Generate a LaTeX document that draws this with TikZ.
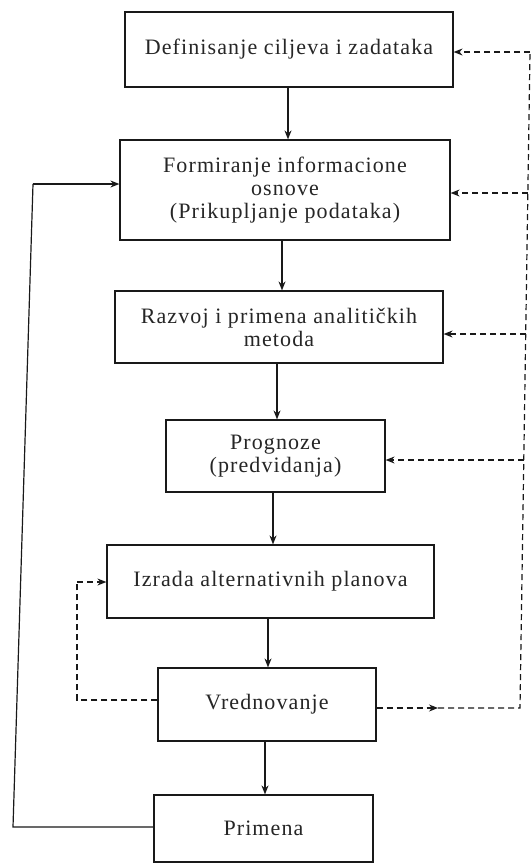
\documentclass[tikz,border=0pt]{standalone}
\usepackage{fontspec}
\setmainfont[LetterSpace=5]{Liberation Serif}
\usetikzlibrary{arrows.meta}
\begin{document}
\begin{tikzpicture}[x=1pt,y=-1pt,
  box/.style={draw=black!90,line width=1.2pt,rectangle,align=center,inner sep=0pt,
    font=\fontsize{22}{23}\selectfont,text=black!85},
  arr/.style={draw=black!90,line width=1.2pt,-{Stealth[length=9pt,width=7pt]}},
  ln/.style={draw=black!90,line width=1.2pt},
  dsh/.style={draw=black!90,line width=1.2pt,dash pattern=on 6pt off 4pt},
  darr/.style={dsh,-{Stealth[length=9pt,width=7pt]}}]
\useasboundingbox (0,0) rectangle (532,863);
\fill[white] (0,0) rectangle (532,863);

\node[box,minimum width=328pt,minimum height=75pt] (a) at (289,49.5) {Definisanje ciljeva i zadataka};
\node[box,minimum width=330pt,minimum height=100pt] (b) at (285,190) {Formiranje informacione\\osnove\\(Prikupljanje podataka)};
\node[box,minimum width=328pt,minimum height=72pt] (c) at (279,327) {Razvoj i primena analitičkih\\metoda};
\node[box,minimum width=219pt,minimum height=72pt] (d) at (275.5,456) {Prognoze\\(predvidanja)};
\node[box,minimum width=327pt,minimum height=73pt] (e) at (270.5,581.5) {Izrada alternativnih planova};
\node[box,minimum width=218pt,minimum height=73pt] (f) at (267,704.5) {Vrednovanje};
\node[box,minimum width=219pt,minimum height=67pt] (g) at (263.5,828.5) {Primena};

% main flow
\coordinate (A1) at (288,0);
\coordinate (A2) at (282,0);
\coordinate (A3) at (277,0);
\coordinate (A4) at (273,0);
\coordinate (A5) at (268,0);
\coordinate (A6) at (265,0);
\draw[arr] (a.south -| A1) -- (b.north -| A1);
\draw[arr] (b.south -| A2) -- (c.north -| A2);
\draw[arr] (c.south -| A3) -- (d.north -| A3);
\draw[arr] (d.south -| A4) -- (e.north -| A4);
\draw[arr] (e.south -| A5) -- (f.north -| A5);
\draw[arr] (f.south -| A6) -- (g.north -| A6);

% left feedback (solid)
\coordinate (L1) at (13,827);
\coordinate (L2) at (33,184);
\draw[ln] (g.west |- L1) -- (L1) -- (L2);
\draw[arr] (L2) -- (b.west |- L2);

% left feedback (dashed)
\coordinate (M1) at (77,700);
\coordinate (M2) at (77,582);
\draw[dsh] (f.west |- M1) -- (M1) -- (M2);
\draw[darr] (M2) -- (e.west |- M2);

% right feedback (dashed)
\coordinate (R5) at (520,708);
\coordinate (R5m) at (438,708);
\coordinate (R1) at (530,52);
\coordinate (R2) at (528,193);
\coordinate (R3) at (525.7,334);
\coordinate (R4) at (523.8,460);
\draw[darr] (f.east |- R5) -- (R5m);
\draw[dsh] (R5m) -- (R5) -- (R1);
\draw[darr] (R1) -- (a.east |- R1);
\draw[darr] (R2) -- (b.east |- R2);
\draw[darr] (R3) -- (c.east |- R3);
\draw[darr] (R4) -- (d.east |- R4);
\end{tikzpicture}
\end{document}
